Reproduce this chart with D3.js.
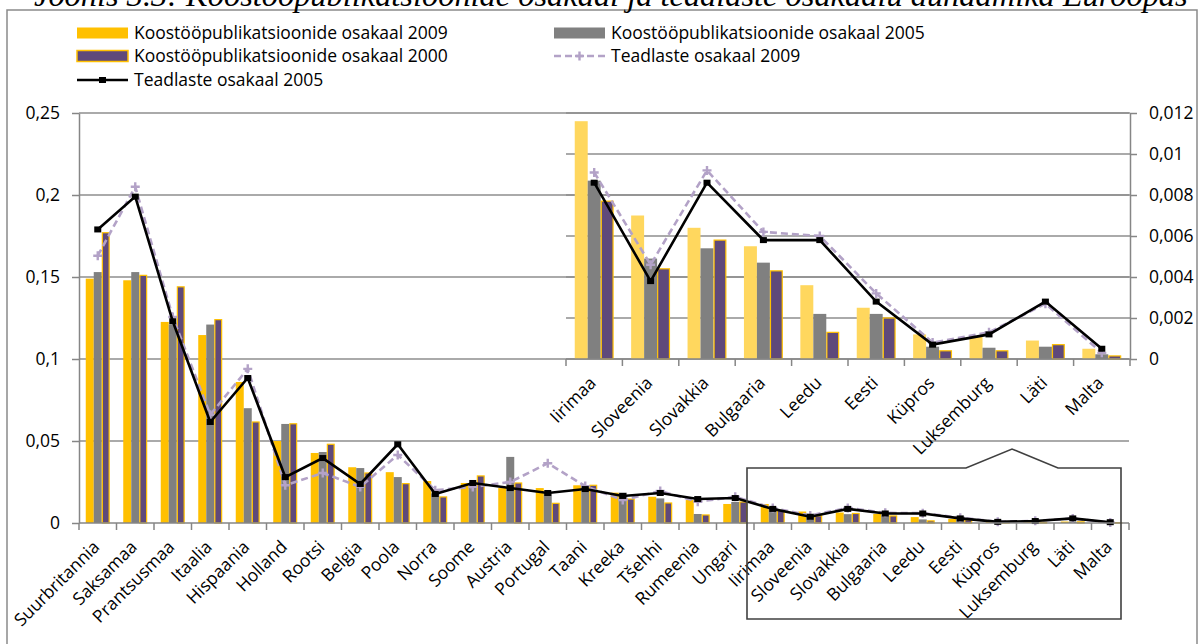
<!DOCTYPE html>
<html>
  <head>
    <meta charset="utf-8">
    <title>Koostööpublikatsioonide osakaal</title>
    <script src="https://cdn.jsdelivr.net/npm/d3@7"></script>
    <style>
      body{ margin:0; background:#fff; }
      svg text{ font-family:'Open Sans', sans-serif; fill:#000; }
    </style>
  </head>
  <body>
    <svg></svg>
    <script>

    //begin: data
    var countries = ["Suurbritannia","Saksamaa","Prantsusmaa","Itaalia","Hispaania","Holland","Rootsi","Belgia",
      "Poola","Norra","Soome","Austria","Portugal","Taani","Kreeka","Tšehhi","Rumeenia","Ungari",
      "Iirimaa","Sloveenia","Slovakkia","Bulgaaria","Leedu","Eesti","Küpros","Luksemburg","Läti","Malta"];
    var pub2009 = [0.149,0.148,0.1226,0.1146,0.086,0.050,0.0427,0.034,0.031,0.0256,0.0244,0.0213,0.0213,0.023,
      0.0185,0.016,0.014,0.0116,0.0116,0.0070,0.0064,0.0055,0.0036,0.0025,0.0012,0.0011,0.0009,0.0005];
    var pub2005 = [0.153,0.153,0.121,0.121,0.070,0.0604,0.0433,0.0335,0.028,0.018,0.022,0.0403,0.018,0.023,
      0.0185,0.015,0.0055,0.0128,0.0087,0.0049,0.0054,0.0047,0.0022,0.0022,0.0006,0.00055,0.0006,0.00023];
    var pub2000 = [0.177,0.151,0.144,0.124,0.0616,0.0605,0.048,0.0305,0.024,0.0159,0.0287,0.0244,0.012,0.023,
      0.0146,0.0122,0.0049,0.0128,0.0077,0.0044,0.0058,0.0043,0.0013,0.0020,0.0004,0.0004,0.0007,0.00015];
    var res2009 = [0.163,0.205,0.1256,0.066,0.094,0.023,0.0305,0.022,0.0415,0.020,0.022,0.025,0.0364,0.0225,
      0.014,0.0195,0.013,0.016,0.0091,0.0046,0.0092,0.0062,0.0060,0.0032,0.0008,0.0013,0.0027,0.0003];
    var res2005 = [0.179,0.199,0.123,0.0616,0.0884,0.028,0.0396,0.0238,0.048,0.0177,0.0244,0.0213,0.0183,0.0207,
      0.0165,0.0183,0.0146,0.0152,0.0086,0.0038,0.0086,0.0058,0.0058,0.0028,0.0007,0.0012,0.0028,0.0005];
    var insetCountries = countries.slice(18);
    var mainTicks = [0,0.05,0.1,0.15,0.2,0.25];
    var insetTicks = [0,0.002,0.004,0.006,0.008,0.01,0.012];
    var titleText = "Joonis 3.3: Koostööpublikatsioonide osakaal ja teadlaste osakaalu dünaamika Euroopas";
    var legendLabels = ["Koostööpublikatsioonide osakaal 2009","Koostööpublikatsioonide osakaal 2005",
      "Koostööpublikatsioonide osakaal 2000","Teadlaste osakaal 2009","Teadlaste osakaal 2005"];
    //end: data

    //begin: layout conf.
    var svgWidth = 1203, svgHeight = 644;
    var gridColor = "#8e8e8e", axisColor = "#868686";
    var yellow = "#ffc000", yellowLight = "#ffd75e", grey = "#808080", purple = "#5f497a", lilac = "#b3a2c7";
    var barKeys = ["p2009","p2005","p2000"];
    var labelSize = "17.5px";
    //end: layout conf.

    var fmt = d3.formatLocale({decimal:",", thousands:" ", grouping:[3], currency:["","€"]});

    var rows = countries.map(function(c,i){
      return {c:c, p2009:pub2009[i], p2005:pub2005[i], p2000:pub2000[i], r2009:res2009[i], r2005:res2005[i]};
    });

    var svg = d3.select("svg").attr("width", svgWidth).attr("height", svgHeight);

    // frame + title
    svg.append("path")
      .attr("d", "M7,650V10H1197V650")
      .attr("fill","none").attr("stroke","#8a8a8a").attr("stroke-width",1.5);

    var title = svg.append("text")
      .attr("x", 34).attr("y", 6)
      .style("font-family","'Liberation Serif', serif")
      .style("font-style","italic")
      .style("font-size","26px")
      .text(titleText);
    var tl = title.node().getComputedTextLength();
    title.style("font-size", (26*1154/tl)+"px");

    function drawChart(g, data, x0, y, xKeys, fillFor) {
      var x1 = d3.scaleBand().domain(xKeys).range([0, x0.bandwidth()]);
      var cx = function(d){ return x0(d.c) + x0.bandwidth()/2; };

      var groups = g.append("g").selectAll("g")
        .data(data).enter().append("g")
          .attr("transform", function(d){ return "translate("+x0(d.c)+",0)"; });

      groups.selectAll("rect")
        .data(function(d){ return xKeys.map(function(k){ return {k:k, v:d[k]}; }); })
        .enter().append("rect")
          .attr("x", function(d){ return x1(d.k) + (d.k=="p2000" ? 0.6 : 0); })
          .attr("width", function(d){ return x1.bandwidth() - (d.k=="p2000" ? 1.2 : 0); })
          .attr("y", function(d){ return y(d.v); })
          .attr("height", function(d){ return y(0) - y(d.v); })
          .attr("fill", fillFor)
          .attr("stroke", function(d){ return d.k=="p2000" ? yellow : "none"; })
          .attr("stroke-width", 1.2);

      // lilac dashed line
      var line2009 = d3.line().x(cx).y(function(d){ return y(d.r2009); });
      g.append("path").datum(data)
        .attr("d", line2009)
        .attr("fill","none").attr("stroke", lilac).attr("stroke-width",2.6)
        .attr("stroke-dasharray","7,4");
      g.append("g").selectAll("path")
        .data(data).enter().append("path")
          .attr("d","M-4.5,0H4.5M0,-4.5V4.5")
          .attr("transform", function(d){ return "translate("+cx(d)+","+y(d.r2009)+")"; })
          .attr("stroke", lilac).attr("stroke-width",2.4);

      // black line
      var line2005 = d3.line().x(cx).y(function(d){ return y(d.r2005); });
      g.append("path").datum(data)
        .attr("d", line2005)
        .attr("fill","none").attr("stroke","#000").attr("stroke-width",2.6);
      g.append("g").selectAll("rect")
        .data(data).enter().append("rect")
          .attr("x", function(d){ return cx(d)-3.5; })
          .attr("y", function(d){ return y(d.r2005)-3; })
          .attr("width",7).attr("height",6)
          .attr("fill","#000");

      // x ticks and labels
      var r = x0.range(), step = x0.step();
      var bounds = d3.range(x0.domain().length + 1).map(function(i){ return r[0] + i*step; });
      g.append("path")
        .attr("d", "M"+r[0]+","+y(0)+"H"+r[1])
        .attr("stroke", axisColor).attr("stroke-width",1.5);
      g.append("g").selectAll("line")
        .data(bounds).enter().append("line")
          .attr("x1", function(d){ return d; }).attr("x2", function(d){ return d; })
          .attr("y1", y(0)).attr("y2", y(0)+7)
          .attr("stroke", axisColor).attr("stroke-width",1.5);
      g.append("g").selectAll("text")
        .data(data).enter().append("text")
          .attr("transform", function(d){ return "translate("+(cx(d)+3)+","+(y(0)+25)+") rotate(-45)"; })
          .attr("text-anchor","end")
          .style("font-size", labelSize)
          .text(function(d){ return d.c; });
    }

    // main chart
    var yMain = d3.scaleLinear().domain([0,0.25]).range([523,113]);
    var xMain = d3.scaleBand().domain(countries).range([79,1129]).paddingInner(0.36).paddingOuter(0.18);

    var main = svg.append("g").classed("main", true);
    main.append("g").selectAll("line")
      .data(mainTicks.slice(1)).enter().append("line")
        .attr("x1", 79).attr("x2", 1129)
        .attr("y1", yMain).attr("y2", yMain)
        .attr("stroke", gridColor).attr("stroke-width",1.3);

    var yAxis = main.append("g")
      .attr("transform","translate(79,0)")
      .call(d3.axisLeft(yMain).tickValues(mainTicks).tickSize(7).tickPadding(12).tickSizeOuter(0)
        .tickFormat(fmt.format(".2~f")));
    yAxis.select(".domain").attr("stroke", axisColor).attr("stroke-width",1.5);
    yAxis.selectAll(".tick line").attr("stroke", axisColor).attr("stroke-width",1.5);
    yAxis.selectAll("text").style("font-size", labelSize).attr("fill","#000");

    drawChart(main, rows, xMain, yMain, barKeys, function(d){
      return d.k=="p2009" ? yellow : d.k=="p2005" ? grey : purple;
    });

    // inset chart
    var yIn = d3.scaleLinear().domain([0,0.012]).range([359,113]);
    var xIn = d3.scaleBand().domain(insetCountries).range([566,1130]).paddingInner(0.31).paddingOuter(0.155);

    var inset = svg.append("g").classed("inset", true);
    inset.append("g").selectAll("line")
      .data(insetTicks.slice(1)).enter().append("line")
        .attr("x1", 566).attr("x2", 1130)
        .attr("y1", yIn).attr("y2", yIn)
        .attr("stroke", gridColor).attr("stroke-width",1.3);

    var yAxisR = inset.append("g")
      .attr("transform","translate(1130,0)")
      .call(d3.axisRight(yIn).tickValues(insetTicks).tickSize(7).tickPadding(12).tickSizeOuter(0)
        .tickFormat(fmt.format(".3~f")));
    yAxisR.select(".domain").attr("stroke", axisColor).attr("stroke-width",1.5);
    yAxisR.selectAll(".tick line").attr("stroke", axisColor).attr("stroke-width",1.5);
    yAxisR.selectAll("text").style("font-size", labelSize).attr("fill","#000");

    drawChart(inset, rows.slice(18), xIn, yIn, barKeys, function(d){
      return d.k=="p2009" ? yellowLight : d.k=="p2005" ? grey : purple;
    });

    // callout box round the small countries
    svg.append("path")
      .attr("d","M747,468H966L1012,449L1058,468H1121V619H747Z")
      .attr("fill","none").attr("stroke","#404040").attr("stroke-width",1.6);

    // legend
    var legend = svg.append("g").classed("legend", true);
    var legendPos = [[77,33],[554,33],[77,56],[554,56],[77,80]];
    legendPos.forEach(function(p,i){
      var lg = legend.append("g").attr("transform","translate("+p+")");
      if (i < 3) {
        lg.append("rect").attr("x",0).attr("y",-5.5).attr("width",51).attr("height",11)
          .attr("fill", [yellow, grey, purple][i])
          .attr("stroke", i==2 ? yellow : "none").attr("stroke-width",1.5);
      } else if (i == 3) {
        lg.append("path").attr("d","M0,0H51").attr("stroke",lilac).attr("stroke-width",2.6)
          .attr("stroke-dasharray","7,4");
        lg.append("path").attr("d","M21,0H30M25.5,-4.5V4.5").attr("stroke",lilac).attr("stroke-width",2.4);
      } else {
        lg.append("path").attr("d","M0,0H51").attr("stroke","#000").attr("stroke-width",2.6);
        lg.append("rect").attr("x",22).attr("y",-3).attr("width",7).attr("height",6).attr("fill","#000");
      }
      lg.append("text").attr("x",57).attr("y",0).attr("dy","0.35em")
        .style("font-size", labelSize)
        .text(legendLabels[i]);
    });

    </script>
  </body>
</html>
